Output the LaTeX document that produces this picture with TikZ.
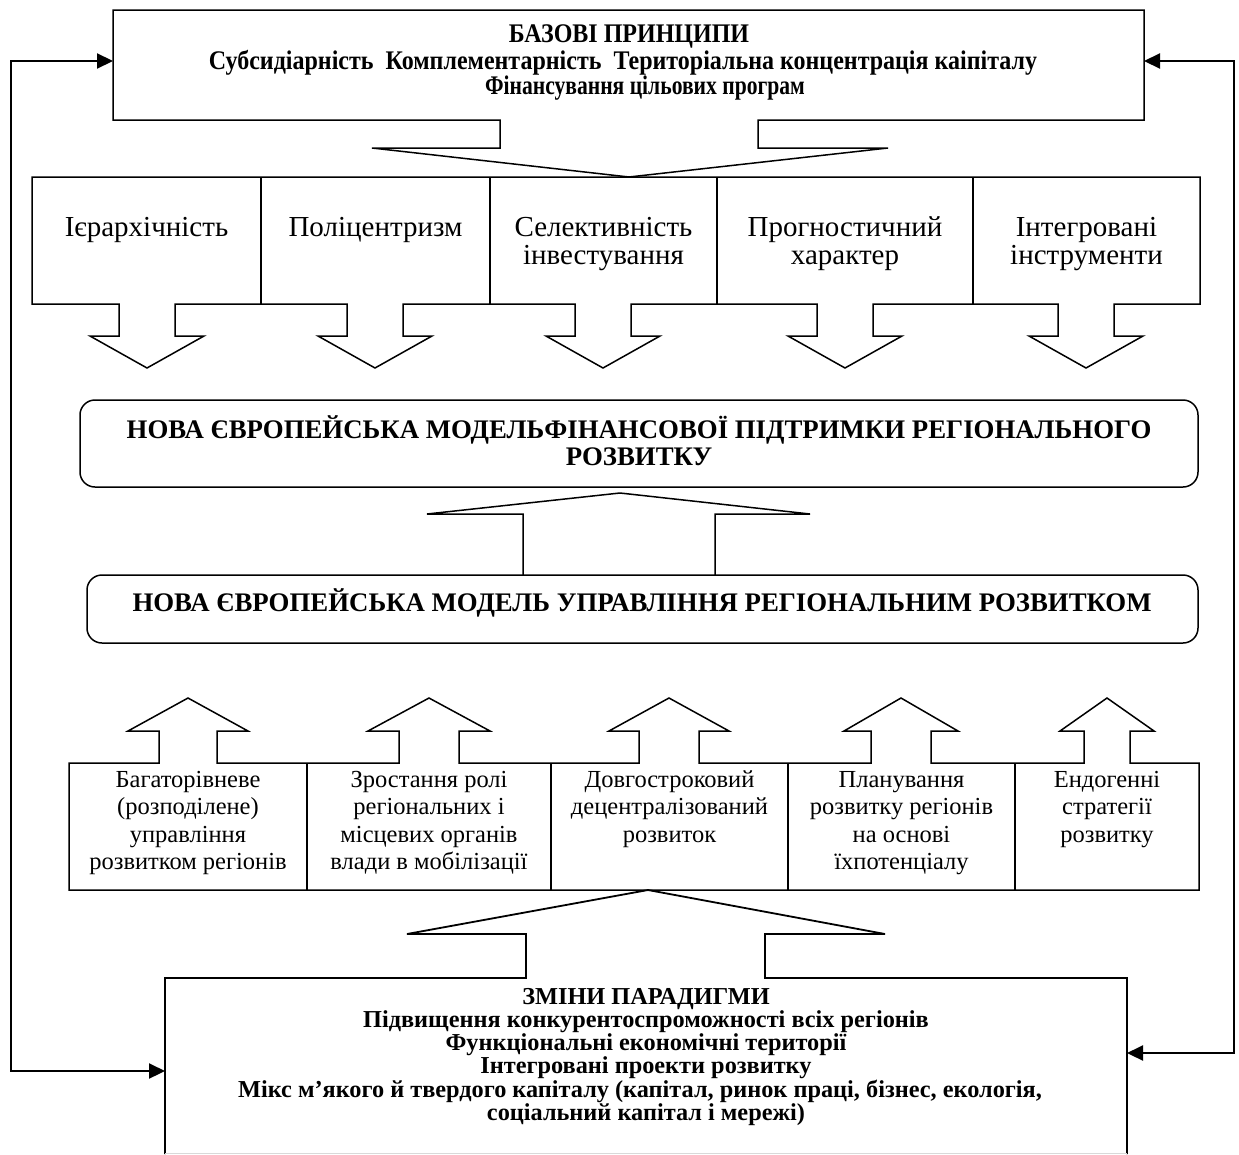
\documentclass[tikz,border=0pt]{standalone}
\usepackage{fontspec}
\setmainfont{Liberation Serif}
\usetikzlibrary{arrows.meta}
\newcommand{\tallbox}[1]{\scalebox{1}[1.12]{#1}}
% fixed first-line heights so that all boxes of a row share one baseline
\newcommand{\prinstrut}{\rule{0pt}{20.5pt}}
\newcommand{\trendstrut}{\rule{0pt}{17.5pt}}
\begin{document}
\begin{tikzpicture}[x=1pt,y=-1pt,
  outline/.style={line width=1.5pt, line join=miter},
  divider/.style={line width=1.3pt},
  feedback/.style={line width=2.2pt,
    {Triangle[length=16pt,width=15pt]}-{Triangle[length=16pt,width=15pt]}},
  hdr/.style={font=\fontsize{24}{26}\selectfont\bfseries, inner sep=0pt, anchor=base},
  prin/.style={font=\fontsize{29}{28.5}\selectfont, inner sep=0pt, align=center, anchor=north},
  model/.style={font=\fontsize{26.8}{28}\selectfont\bfseries, inner sep=0pt, anchor=base},
  trend/.style={font=\fontsize{24.5}{27.5}\selectfont, inner sep=0pt, align=center, anchor=north},
  shiftline/.style={font=\fontsize{24.3}{23}\selectfont\bfseries, inner sep=0pt, anchor=base},
]
\useasboundingbox (0,0) rectangle (1239,1154);

% basic principles box with its downward arrow
\draw[outline] (113,10) -- (1144,10) -- (1144,120) -- (758,120) -- (758,148)
  -- (888,148) -- (629,177) -- (372,148) -- (500,148) -- (500,120)
  -- (113,120) -- cycle;
\node[hdr] (h1) at (629,42) {\tallbox{БАЗОВІ ПРИНЦИПИ}};
\node[hdr] (h2) at (623,69) {\tallbox{Субсидіарність\ \ Комплементарність\ \ Територіальна концентрація каіпіталу}};
\node[hdr] (h3) at (645,94) {\scalebox{0.9}[1.12]{Фінансування цільових програм}};

% row of principles, each with a downward arrow
\draw[outline] (32,177) -- (1200,177) -- (1200,304)
  -- (1114,304) -- (1114,336) -- (1143,336) -- (1086,368) -- (1029,336) -- (1058,336) -- (1058,304)
  -- (873,304) -- (873,336) -- (902,336) -- (845,368) -- (788,336) -- (817,336) -- (817,304)
  -- (631,304) -- (631,336) -- (660,336) -- (603,368) -- (546,336) -- (575,336) -- (575,304)
  -- (403,304) -- (403,336) -- (432,336) -- (375,368) -- (318,336) -- (347,336) -- (347,304)
  -- (175,304) -- (175,336) -- (204,336) -- (147,368) -- (90,336) -- (119,336) -- (119,304)
  -- (32,304) -- cycle;
\foreach \x in {261,490,717,973} \draw[divider] (\x,177) -- (\x,304);

\node[prin] (p1) at (146.5,215.5) {\prinstrut Ієрархічність};
\node[prin] (p2) at (375.5,215.5) {\prinstrut Поліцентризм};
\node[prin] (p3) at (603.5,215.5) {\prinstrut Селективність\\інвестування};
\node[prin] (p4) at (845,215.5) {\prinstrut Прогностичний\\характер};
\node[prin] (p5) at (1086.5,215.5) {\prinstrut Інтегровані\\інструменти};

% financial support model
\draw[outline, rounded corners=15pt] (80,400) rectangle (1198,487);
\node[model] (m1a) at (639,438) {НОВА ЄВРОПЕЙСЬКА МОДЕЛЬФІНАНСОВОЇ ПІДТРИМКИ РЕГІОНАЛЬНОГО};
\node[model] (m1b) at (639,465) {РОЗВИТКУ};

% upward arrow between the two models
\draw[outline] (523,575) -- (523,514) -- (427,514) -- (620,493) -- (810,514)
  -- (715,514) -- (715,575);

% governance model
\draw[outline, rounded corners=15pt] (87,575) rectangle (1198,643);
\node[model] (m2) at (642,611) {НОВА ЄВРОПЕЙСЬКА МОДЕЛЬ УПРАВЛІННЯ РЕГІОНАЛЬНИМ РОЗВИТКОМ};

% row of trends, each with an upward arrow
\draw[outline] (69,890) -- (69,763)
  -- (159,763) -- (159,731) -- (128,731) -- (188,698) -- (248,731) -- (217,731) -- (217,763)
  -- (399,763) -- (399,731) -- (368,731) -- (429,698) -- (490,731) -- (459,731) -- (459,763)
  -- (639,763) -- (639,731) -- (609,731) -- (669,698) -- (729,731) -- (699,731) -- (699,763)
  -- (871,763) -- (871,731) -- (844,731) -- (901,698) -- (958,731) -- (931,731) -- (931,763)
  -- (1084,763) -- (1084,731) -- (1060,731) -- (1107,698) -- (1154,731) -- (1130,731) -- (1130,763)
  -- (1199,763) -- (1199,890) -- cycle;
\foreach \x in {307,551,788,1015} \draw[divider] (\x,763) -- (\x,890);

\node[trend] (t1) at (188,769.5) {\trendstrut Багаторівневе\\(розподілене)\\управління\\розвитком регіонів};
\node[trend] (t2) at (429,769.5) {\trendstrut Зростання ролі\\регіональних і\\місцевих органів\\влади в мобілізації};
\node[trend] (t3) at (669.5,769.5) {\trendstrut Довгостроковий\\децентралізований\\розвиток};
\node[trend] (t4) at (901.5,769.5) {\trendstrut Планування\\розвитку регіонів\\на основі\\їхпотенціалу};
\node[trend] (t5) at (1107,769.5) {\trendstrut Ендогенні\\стратегії\\розвитку};

% paradigm shifts box with its upward arrow
\draw[outline, line width=1.8pt] (165,1154) -- (165,978) -- (526,978) -- (526,934)
  -- (407,934) -- (648,890) -- (885,934) -- (765,934) -- (765,978)
  -- (1127,978) -- (1127,1154);
\draw[line width=1pt, black!15] (165,1153) -- (1127,1153);
\node[shiftline] (s1) at (646,1004) {ЗМІНИ ПАРАДИГМИ};
\node[shiftline] (s2) at (646,1027) {Підвищення конкурентоспроможності всіх регіонів};
\node[shiftline] (s3) at (646,1050) {Функціональні економічні території};
\node[shiftline] (s4) at (646,1073) {Інтегровані проекти розвитку};
\node[shiftline] (s5) at (640,1097) {Мікс м’якого й твердого капіталу (капітал, ринок праці, бізнес, екологія,};
\node[shiftline] (s6) at (646,1120) {соціальний капітал і мережі)};

% feedback loops between paradigm shifts and basic principles
\coordinate (topL) at (113,61);
\coordinate (topR) at (1144,61);
\coordinate (botL) at (165,1071);
\coordinate (botR) at (1127,1053);
\draw[feedback] (topL) -- (11,61) -- (11,1071) -- (botL);
\draw[feedback] (topR) -- (1234,61) -- (1234,1053) -- (botR);
\end{tikzpicture}
\end{document}
